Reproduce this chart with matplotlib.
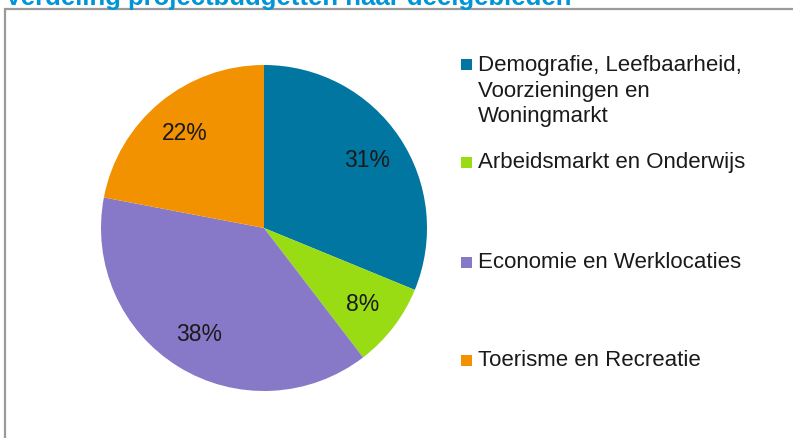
import matplotlib.pyplot as plt
from matplotlib.patches import Rectangle

# data
categories = [
    "Demografie, Leefbaarheid,\nVoorzieningen en\nWoningmarkt",
    "Arbeidsmarkt en Onderwijs",
    "Economie en Werklocaties",
    "Toerisme en Recreatie",
]
shares = [31.2, 8.4, 38.4, 22.0]
colors = ["#0076A0", "#9ADC14", "#8879C8", "#F39200"]
title = "Verdeling projectbudgetten naar deelgebieden"

W, H = 793, 439
plt.rcParams["font.family"] = ["Liberation Sans", "DejaVu Sans"]

fig = plt.figure(figsize=(W / 100, H / 100), dpi=100)

# frame around chart (top and left visible, rest clipped)
fig.patches.append(Rectangle((5 / W, -0.1), 1.2, 1 - 10 / H + 0.1,
                             transform=fig.transFigure, fill=False,
                             edgecolor="#9A9A9A", linewidth=1.6))

# title, mostly cut off at the top
fig.text(5 / W, 1 - 5 / H, title, color="#0095D6", fontsize=18.5,
         fontweight="bold", ha="left", va="baseline")

# pie
ax = fig.add_axes([101 / W, 47 / H, 326 / W, 326 / H])
ax.pie(shares, colors=colors, startangle=90, counterclock=False,
       autopct="%.0f%%", pctdistance=0.76,
       textprops={"fontsize": 16.5, "color": "#1a1a1a"})
ax.set_xlim(-1, 1)
ax.set_ylim(-1, 1)

# legend
marker_y = [65, 163, 263, 361]
for label, col, y in zip(categories, colors, marker_y):
    fig.patches.append(Rectangle((461 / W, 1 - (y + 5.5) / H), 11 / W, 11 / H,
                                 transform=fig.transFigure, facecolor=col,
                                 edgecolor="none"))
    n = label.count("\n")
    # centre of first line sits on the marker
    fig.text(478 / W, 1 - (y + n * 13) / H, label, fontsize=16,
             color="#1a1a1a", ha="left", va="center", linespacing=1.3)

fig.savefig("out.png", dpi=100)
